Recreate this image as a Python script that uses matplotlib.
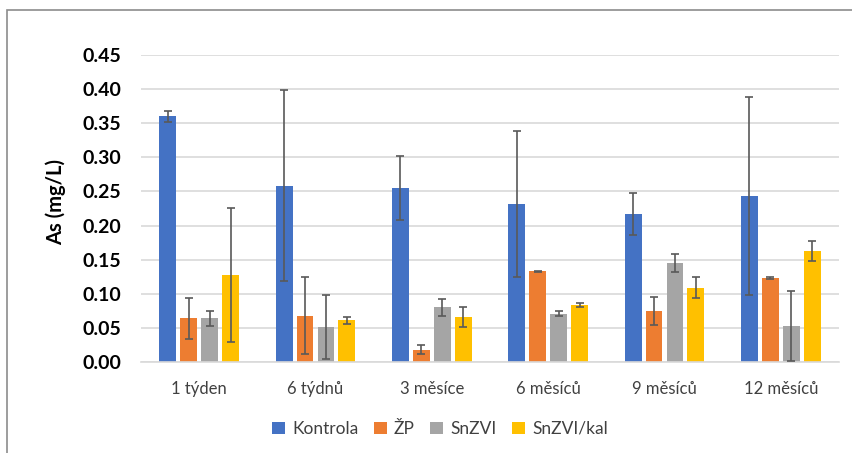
import matplotlib
matplotlib.use("Agg")
from matplotlib import pyplot
from matplotlib.patches import Rectangle
import numpy as np

pyplot.rcParams['font.family'] = ['Lato', 'DejaVu Sans']

categories = ["1 týden", "6 týdnů", "3 měsíce", "6 měsíců", "9 měsíců", "12 měsíců"]
series = ["Kontrola", "ŽP", "SnZVI", "SnZVI/kal"]

kontrola = [0.360, 0.258, 0.255, 0.232, 0.217, 0.243]
kontrola_err = [0.008, 0.140, 0.047, 0.107, 0.031, 0.145]
zp = [0.064, 0.068, 0.018, 0.133, 0.075, 0.123]
zp_err = [0.030, 0.057, 0.007, 0.001, 0.021, 0.002]
snzvi = [0.064, 0.051, 0.080, 0.071, 0.145, 0.053]
snzvi_err = [0.011, 0.047, 0.012, 0.004, 0.013, 0.051]
snzvi_kal = [0.127, 0.061, 0.066, 0.084, 0.109, 0.163]
snzvi_kal_err = [0.098, 0.005, 0.015, 0.003, 0.015, 0.015]

values = [kontrola, zp, snzvi, snzvi_kal]
errors = [kontrola_err, zp_err, snzvi_err, snzvi_kal_err]
colors = ['#4472C4', '#ED7D31', '#A5A5A5', '#FFC000']

fig = pyplot.figure(figsize=(8.52, 4.53), dpi=100)
ax = fig.add_axes([141/852, 1-362/453, 698/852, 307/453])

x = np.arange(len(categories))
step = 0.18
width = 0.145
for i, (vals, errs, col, name) in enumerate(zip(values, errors, colors, series)):
	pos = x + (i - 1.5) * step
	ax.bar(pos, vals, width, color=col, label=name, zorder=2)
	ax.errorbar(pos, vals, yerr=errs, fmt='none', ecolor='#595959',
				elinewidth=1.2, capsize=3, capthick=1.2, zorder=3)

ax.set_xlim(-0.5, len(categories) - 0.5)
ax.set_ylim(0, 0.45)
ax.set_yticks(np.arange(0, 0.451, 0.05))
ax.set_yticklabels(["%.2f" % v for v in np.arange(0, 0.451, 0.05)],
				   fontsize=14, fontweight='bold', color='black')
ax.set_xticks(x)
ax.set_xticklabels(categories, fontsize=12, color='#404040')
ax.tick_params(axis='both', length=0)
ax.tick_params(axis='y', pad=14)
ax.tick_params(axis='x', pad=14)
ax.grid(axis='y', color='#d9d9d9', linewidth=1.2, zorder=0)
ax.set_axisbelow(True)
for s in ['top', 'right', 'left']:
	ax.spines[s].set_visible(False)
ax.spines['bottom'].set_color('#d9d9d9')
ax.spines['bottom'].set_linewidth(1.2)

fig.text(56/852, 1-202/453, "As (mg/L)", rotation=90, ha='center', va='center',
		 fontsize=14.5, fontweight='bold')

handles, labels = ax.get_legend_handles_labels()
fig.legend(handles, labels, loc='center', bbox_to_anchor=(440/852, 1-429/453),
		   ncol=4, frameon=False, fontsize=12.5, handlelength=0.75, handleheight=0.75,
		   columnspacing=0.9, handletextpad=0.4, labelcolor='#404040')

fig.patches.append(Rectangle((7/852, -0.1), 2, 1.1 - 10/453, transform=fig.transFigure,
							 fill=False, edgecolor='#8c8c8c', linewidth=1.2))

pyplot.savefig("out.png", dpi=100)
